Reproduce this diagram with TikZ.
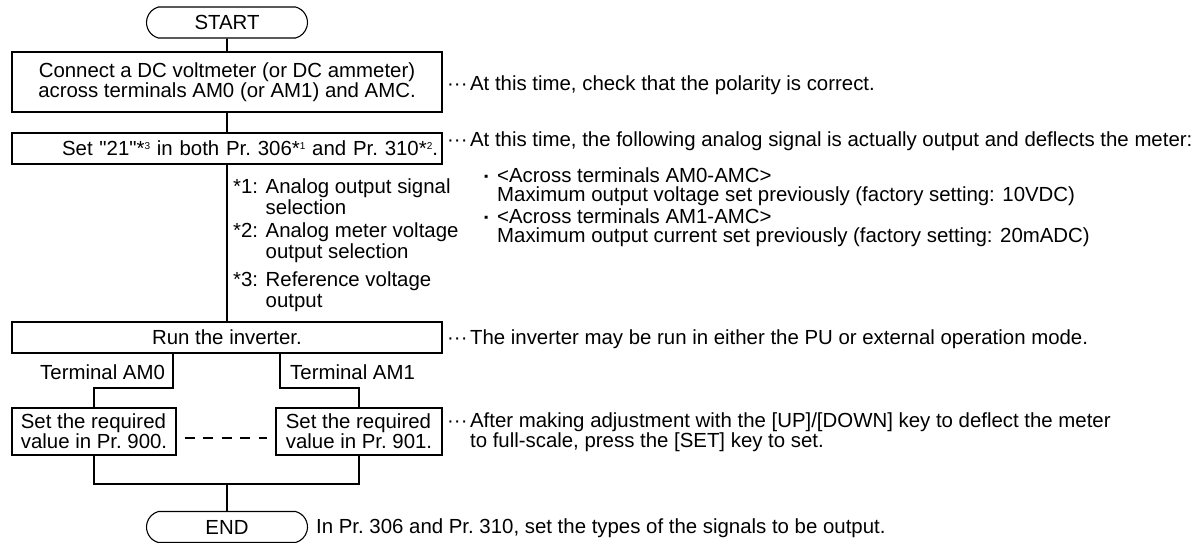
\documentclass[tikz,border=0pt]{standalone}
\usepackage{fontspec}
\setmainfont{Liberation Sans}[Ligatures=TeXOff]
\usetikzlibrary{shapes.misc,positioning}

\newcommand{\leaddots}{···\hspace{2.5pt}}
\newcommand{\sqbullet}{{\fontsize{12}{12}\selectfont\raisebox{2.5pt}{▪}}}
\newcommand{\fnmark}[1]{\raisebox{6.5pt}{\fontsize{10}{10}\selectfont #1}}

\tikzset{
    term/.style={draw, line width=1.1pt, rounded rectangle, rounded rectangle arc length=150,
        minimum width=161pt, minimum height=31pt, inner sep=0pt},
    stepbox/.style={draw, line width=1.1pt, rectangle, inner sep=0pt},
    note/.style={anchor=west, inner sep=0pt, align=left},
    conn/.style={line width=1.6pt},
}

\begin{document}
\begin{tikzpicture}[x=1pt, y=-1pt, font=\fontsize{20.4}{21}\selectfont]
    \useasboundingbox (0,0) rectangle (1196,542);

    \node[term] (start) at (227,22.5) {START};

    \node[stepbox, minimum width=430pt, minimum height=60pt, align=center, font=\fontsize{20.4}{20}\selectfont] (connect) at (227,82)
        {Connect a DC voltmeter (or DC ammeter)\\across terminals AM0 (or AM1) and AMC.};
    \draw[conn] (start) -- (connect);
    \node[note] (n1) at (447,85) {\leaddots At this time, check that the polarity is correct.};

    \node[stepbox, minimum width=430pt, minimum height=31pt, text width=422pt, align=right] (setpr) at (227,148.5)
        {Set "21"*\fnmark{3} in both Pr.~306*\fnmark{1} and Pr.~310*\fnmark{2}.};
    \draw[conn] (connect) -- (setpr);
    \node[note] (n2) at (447,141) {\leaddots At this time, the following analog signal is actually output and deflects the meter:};
    \node[note, font=\fontsize{20.4}{19}\selectfont] (n2a) at (484,187)
        {\makebox[13pt][l]{\sqbullet}<Across terminals AM0-AMC>\\\hspace{13pt}Maximum output voltage set previously (factory setting: 10VDC)};
    \node[note, font=\fontsize{20.4}{19}\selectfont] (n2b) at (484,228)
        {\makebox[13pt][l]{\sqbullet}<Across terminals AM1-AMC>\\\hspace{13pt}Maximum output current set previously (factory setting: 20mADC)};

    % footnotes beside the main line
    \node[note] (fn1) at (233,197) {*1: Analog output signal\\\phantom{*1: }selection};
    \node[note] (fn2) at (233,243) {*2: Analog meter voltage\\\phantom{*2: }output selection};
    \node[note] (fn3) at (233,292) {*3: Reference voltage\\\phantom{*3: }output};

    \node[stepbox, minimum width=430pt, minimum height=31pt] (run) at (227,337.5) {Run the inverter.};
    \draw[conn] (setpr) -- (run);
    \node[note] (n3) at (447,339) {\leaddots The inverter may be run in either the PU or external operation mode.};

    \node[note] (tam0) at (40,372) {Terminal AM0};
    \node[note] (tam1) at (290,372) {Terminal AM1};
    \coordinate (fork0) at (173,388);
    \coordinate (fork1) at (280,388);

    \node[stepbox, minimum width=164pt, minimum height=47pt, align=left, font=\fontsize{20.4}{20}\selectfont] (set0) at (94,431.5)
        {Set the required\\value in Pr.~900.};
    \node[stepbox, minimum width=166pt, minimum height=47pt, align=left, font=\fontsize{20.4}{20}\selectfont] (set1) at (359,431.5)
        {Set the required\\value in Pr.~901.};
    \draw[conn] (run.south -| fork0) -- (fork0) -| (set0.north);
    \draw[conn] (run.south -| fork1) -- (fork1) -| (set1.north);
    \draw[conn, dash pattern=on 10pt off 8.5pt] ([xshift=8pt,yshift=-6.5pt]set0.east) -- ([xshift=-8pt,yshift=-6.5pt]set1.west);
    \node[note, font=\fontsize{20.4}{20}\selectfont] (n4) at (447,432)
        {\leaddots After making adjustment with the [UP]/[DOWN] key to deflect the meter\\\phantom{\leaddots}to full-scale, press the [SET] key to set.};

    \node[term] (end) at (227,527) {END};
    \coordinate (join) at (227,484);
    \draw[conn] (set0.south) |- (set1.south |- join) -- (set1.south);
    \draw[conn] (join) -- (end);
    \node[note] (n5) at (316,528) {In Pr.~306 and Pr.~310, set the types of the signals to be output.};
\end{tikzpicture}
\end{document}
